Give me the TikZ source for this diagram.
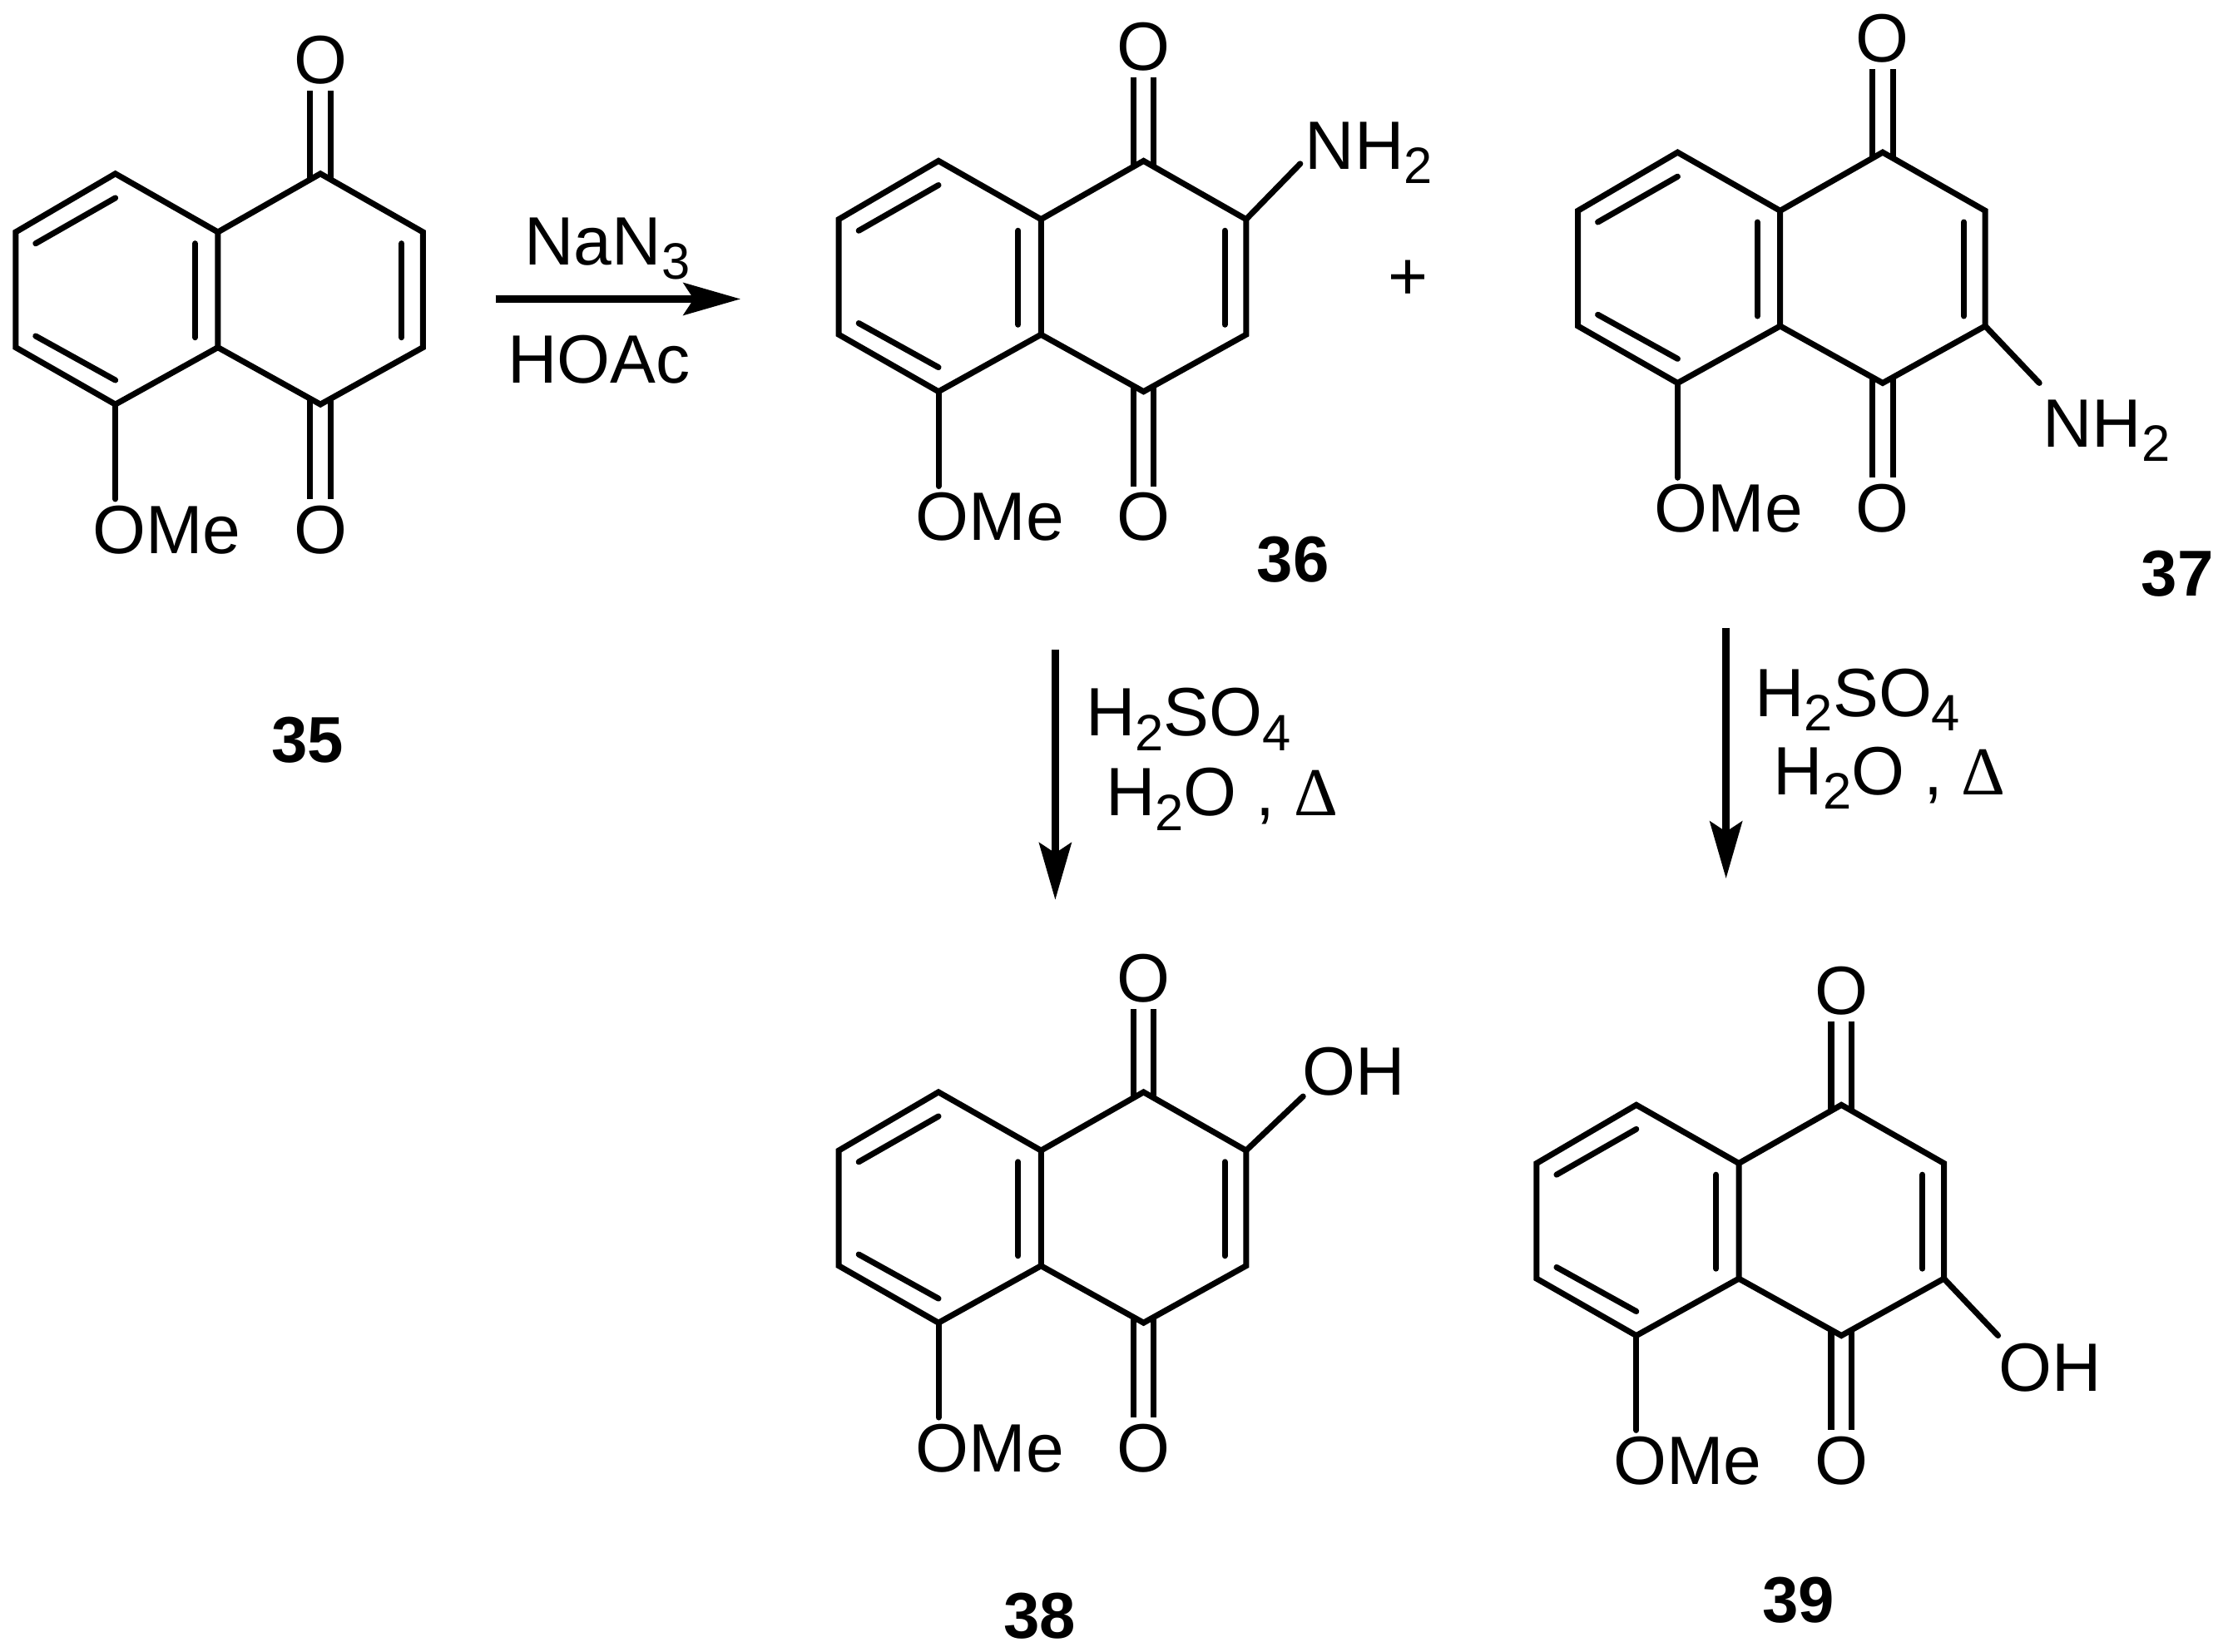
\documentclass[tikz,border=0pt]{standalone}
\usepackage{fontspec}
\setmainfont{Liberation Sans}
\newfontfamily\deltafont{Liberation Serif}
\usetikzlibrary{arrows.meta}
\newcommand{\subs}[1]{\raisebox{-0.21em}{\fontsize{17.5}{20}\selectfont #1}}
\tikzset{
  bond/.style={line width=2pt,line cap=round,line join=miter},
  dblbond/.style={line width=2pt,double,double distance=5pt,shorten <=-2pt},
  rxn/.style={line width=2.4pt,-{Stealth[length=19.5pt,width=11pt,inset=3.5pt]}},
  atom/.style={font=\fontsize{23.4}{28}\selectfont,inner sep=2pt},
  subst/.style={atom,inner sep=0pt,anchor=base west},
  reagent/.style={font=\fontsize{23.4}{28}\selectfont,inner sep=0pt,anchor=base west},
  cpdlabel/.style={font=\fontsize{22.2}{26}\selectfont\bfseries,inner sep=0pt}
}
\begin{document}
\begin{tikzpicture}[x=0.017117cm,y=-0.017117cm]
\useasboundingbox (0,0) rectangle (1568,1160);

% Naphthoquinone skeleton, one per compound
\foreach \mol/\ox/\oy in {35/225/122, 36/803/113, 37/1322/107, 38/803/767, 39/1293/776} {
  \begin{scope}[shift={(\ox,\oy)}]
    \coordinate (top\mol) at (0,0);
    \coordinate (ru\mol) at (72,41);
    \coordinate (rd\mol) at (72,122);
    \coordinate (bot\mol) at (0,162);
    \coordinate (ju\mol) at (-72,41);
    \coordinate (jd\mol) at (-72,122);
    \coordinate (ltop\mol) at (-144,0);
    \coordinate (lu\mol) at (-214,41);
    \coordinate (ld\mol) at (-214,122);
    \coordinate (lbot\mol) at (-144,162);
    \node[atom] (otop\mol) at (0,-80) {O};
    \node[atom] (obot\mol) at (0,250) {O};
    \node[atom] (ome\mol) at (-108,250) {OMe};
    % C=O first, the rings lie over them
    \draw[dblbond] (top\mol) -- (otop\mol.south);
    \draw[dblbond] (bot\mol) -- (obot\mol.north);
    \draw[bond] (top\mol) -- (ru\mol) -- (rd\mol) -- (bot\mol) -- (jd\mol) -- (ju\mol) -- cycle;
    \draw[bond] (ju\mol) -- (ltop\mol) -- (lu\mol) -- (ld\mol) -- (lbot\mol) -- (jd\mol);
    \draw[bond] (lbot\mol) -- (lbot\mol |- ome\mol.north);
    % inner lines of the double bonds
    \draw[bond] (-144,17) -- (-200,49);
    \draw[bond] (-200,114) -- (-144,145);
    \draw[bond] (-88,49) -- (-88,115);
    \draw[bond] (57,49) -- (57,115);
  \end{scope}
}

% Substituents
\node[subst] (nh36) at (916,119) {NH\subs{2}};
\coordinate (nhe36) at (913,115);
\draw[bond] (ru36) -- (nhe36);
\node[subst] (nh37) at (1434,314) {NH\subs{2}};
\coordinate (nhe37) at (1432,269);
\draw[bond] (rd37) -- (nhe37);
\node[subst] (oh38) at (914,769) {OH};
\coordinate (ohe38) at (915,770);
\draw[bond] (ru38) -- (ohe38);
\node[subst] (oh39) at (1403,977) {OH};
\coordinate (ohe39) at (1403,938);
\draw[bond] (rd39) -- (ohe39);

% Compound numbers
\foreach \mol/\x/\y in {35/216/520, 36/908/393, 37/1529/403, 38/730/1135, 39/1263/1124} {
  \node[cpdlabel] (lab\mol) at (\x,\y) {\mol};
}
\node[atom] (plus) at (989,197) {+};

% Arrows
\coordinate (a1s) at (348,210);
\coordinate (a1e) at (520,210);
\draw[rxn] (a1s) -- (a1e);
\coordinate (a2s) at (741,456);
\coordinate (a2e) at (741,632);
\draw[rxn] (a2s) -- (a2e);
\coordinate (a3s) at (1212,441);
\coordinate (a3e) at (1212,617);
\draw[rxn] (a3s) -- (a3e);

% Reagents
\node[reagent] (nan) at (368,186) {NaN\subs{3}};
\node[reagent] (hoac) at (356,269) {HOAc};
\foreach \n/\xa/\ya/\xb/\yb in {l/762/517/776/573, r/1232/503/1245/558} {
  \node[reagent] (acid\n) at (\xa,\ya) {H\subs{2}SO\subs{4}};
  \node[reagent] (water\n) at (\xb,\yb) {H\subs{2}O , {\deltafont Δ}};
}
\end{tikzpicture}
\end{document}
